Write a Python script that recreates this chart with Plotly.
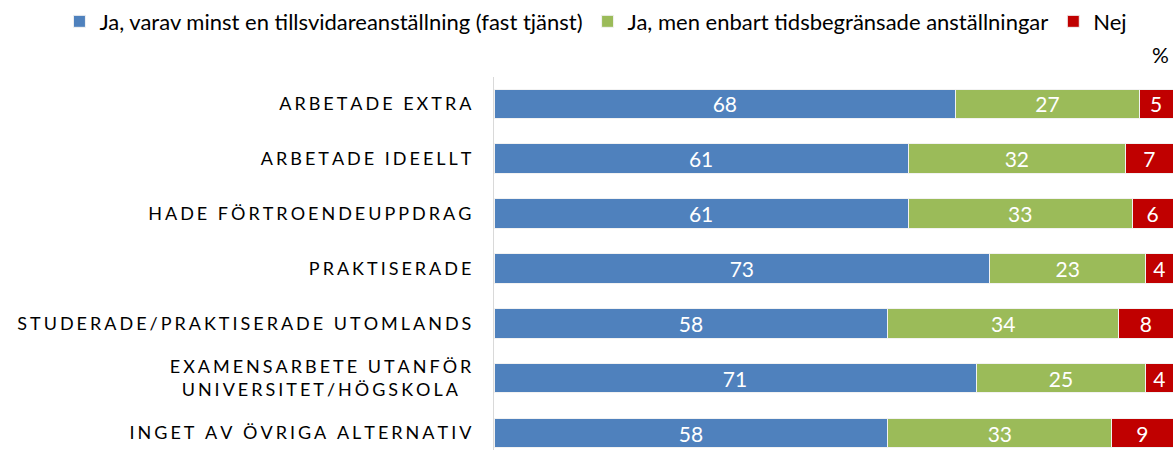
import plotly.graph_objects as go

CATEGORIES = [
    "ARBETADE EXTRA",
    "ARBETADE IDEELLT",
    "HADE FÖRTROENDEUPPDRAG",
    "PRAKTISERADE",
    "STUDERADE/PRAKTISERADE UTOMLANDS",
    "EXAMENSARBETE UTANFÖR<br>UNIVERSITET/HÖGSKOLA",
    "INGET AV ÖVRIGA ALTERNATIV",
]
SERIES_NAMES = [
    "Ja, varav minst en tillsvidareanställning (fast tjänst)",
    "Ja, men enbart tidsbegränsade anställningar",
    "Nej",
]
FAST = [68, 61, 61, 73, 58, 71, 58]
TIDSBEGR = [27, 32, 33, 23, 34, 25, 33]
NEJ = [5, 7, 6, 4, 8, 4, 9]

COLORS = ["#4f81bd", "#9bbb59", "#c00000"]
FONT = "Lato"


def spaced(label: str) -> str:
    """Imitate the wide letter spacing of the original category labels."""
    lines = ["\u2006".join(line) for line in label.split("<br>")]
    # the original centres wrapped lines, so pad the shorter last line
    if len(lines) > 1:
        lines[-1] += "\u2002\u2005"
    return "<br>".join(lines)


labels = [spaced(c) for c in CATEGORIES]

fig = go.Figure()
for name, values, color in zip(SERIES_NAMES, [FAST, TIDSBEGR, NEJ], COLORS):
    fig.add_bar(
        y=labels,
        x=values,
        name=name,
        orientation="h",
        marker=dict(color=color, line=dict(color="#f2f2f2", width=1)),
        text=values,
        textposition="inside",
        insidetextanchor="middle",
        textangle=0,
        constraintext="none",
        textfont=dict(color="white", size=21, family=FONT),
        hovertemplate="%{y}<br>" + name + ": %{x}%<extra></extra>",
    )

fig.add_annotation(
    text="%",
    xref="paper",
    yref="paper",
    x=0.982,
    y=1.059,
    xanchor="center",
    yanchor="middle",
    showarrow=False,
    font=dict(size=21, family=FONT, color="#000000"),
)

fig.update_layout(
    width=1175,
    height=450,
    barmode="stack",
    bargap=0.46,
    plot_bgcolor="white",
    paper_bgcolor="white",
    margin=dict(l=494, r=2, t=75, b=0),
    font=dict(family=FONT, size=21, color="#000000"),
    legend=dict(
        orientation="h",
        xref="paper",
        x=-0.64,
        xanchor="left",
        yref="paper",
        y=1.205,
        yanchor="top",
        font=dict(size=22, family=FONT),
        traceorder="normal",
    ),
)
fig.update_xaxes(range=[0, 100], showticklabels=False, showgrid=False, zeroline=False)
fig.update_yaxes(
    categoryorder="array",
    categoryarray=labels,
    range=[6.31, -0.49],
    showline=True,
    linecolor="#d9d9d9",
    linewidth=1,
    ticks="",
    showgrid=False,
    tickfont=dict(size=18, family=FONT, color="#000000"),
    ticklabelstandoff=18,
)

fig.write_html(
    "out.html",
    config={"displayModeBar": False},
    post_script="document.body.style.margin='0';",
)
